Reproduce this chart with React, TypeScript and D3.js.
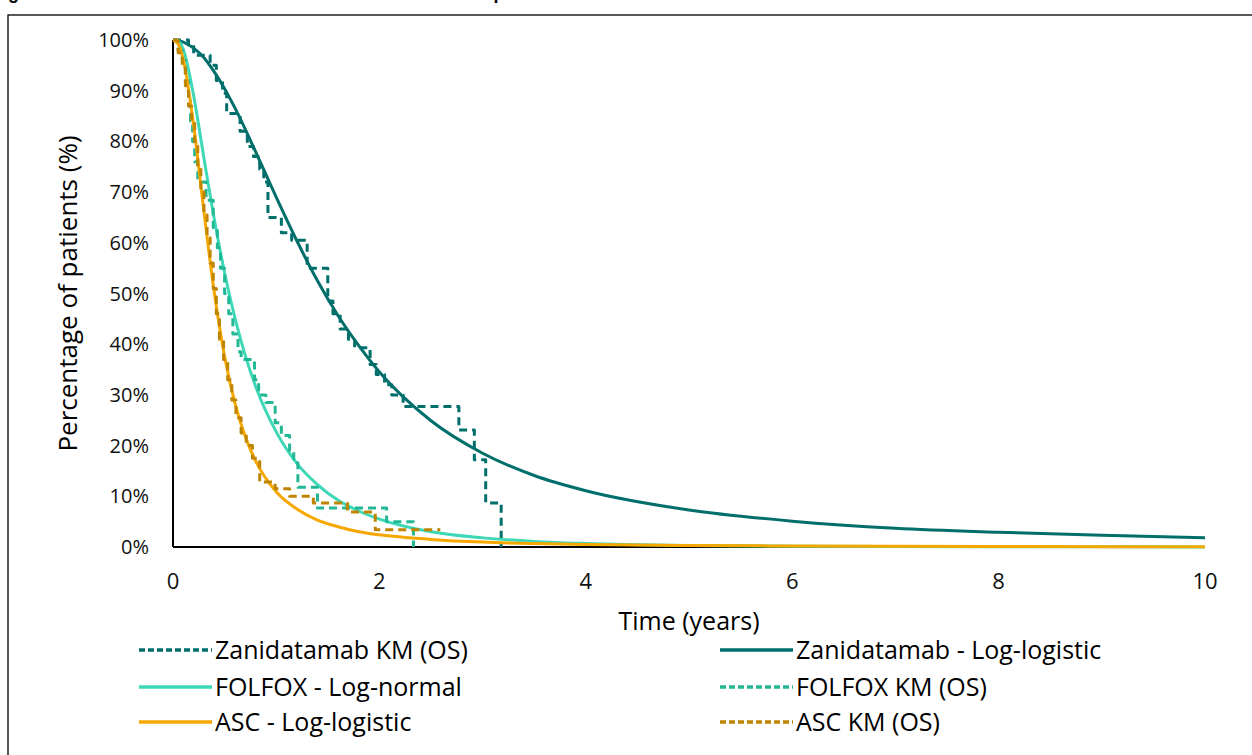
import React from "react";
import * as d3 from "d3";

// ---------- data ----------
const xTicks = [0, 2, 4, 6, 8, 10];
const yTicks = [0, 10, 20, 30, 40, 50, 60, 70, 80, 90, 100];

// Zanidatamab - Log-logistic (fitted curve), % surviving
const zaniFitTime = [0, 0.1, 0.2, 0.3, 0.4, 0.5, 0.6, 0.8, 1.0, 1.2, 1.4, 1.6, 1.8, 2.0, 2.5, 3, 3.5, 4, 5, 6, 7, 8, 9, 10];
const zaniFitPct = [100, 99.6, 98.4, 96.5, 93.7, 90.4, 86.6, 78.0, 69.0, 60.4, 52.5, 45.6, 39.7, 34.5, 24.9, 18.5, 14.1, 11.1, 7.3, 5.1, 3.7, 2.9, 2.3, 1.8];

// FOLFOX - Log-normal (fitted curve)
const folfoxFitTime = [0, 0.05, 0.1, 0.2, 0.3, 0.4, 0.5, 0.6, 0.7, 0.8, 1.0, 1.2, 1.4, 1.6, 1.8, 2.0, 2.5, 3, 3.5, 4, 5, 6, 8, 10];
const folfoxFitPct = [100, 99.8, 98.1, 89.0, 76.7, 64.7, 54.1, 45.2, 37.8, 31.7, 22.7, 16.5, 12.3, 9.2, 7.1, 5.5, 3.0, 1.8, 1.1, 0.7, 0.3, 0.16, 0.05, 0.02];

// ASC - Log-logistic (fitted curve)
const ascFitTime = [0, 0.05, 0.1, 0.2, 0.3, 0.4, 0.5, 0.6, 0.7, 0.8, 1.0, 1.2, 1.4, 1.6, 1.8, 2.0, 2.5, 3, 3.5, 4, 5, 6, 8, 10];
const ascFitPct = [100, 99.2, 96.1, 83.2, 66.1, 50.2, 37.6, 28.4, 21.8, 17.0, 10.9, 7.5, 5.3, 4.0, 3.0, 2.4, 1.5, 0.97, 0.68, 0.5, 0.3, 0.2, 0.1, 0.06];

// Zanidatamab KM (OS) step data
const zaniKmTime = [0, 0.15, 0.2, 0.36, 0.42, 0.48, 0.52, 0.65, 0.72, 0.78, 0.84, 0.88, 0.92, 1.05, 1.15, 1.30, 1.50, 1.55, 1.62, 1.70, 1.76, 1.91, 1.97, 2.05, 2.12, 2.23, 2.77, 2.92, 3.03, 3.18];
const zaniKmPct = [100, 99, 97, 95, 92, 89.5, 85.5, 82, 79, 77, 74.5, 72, 65, 62, 60.5, 55, 48.5, 46, 43, 41, 39.3, 36, 34, 32, 30, 27.7, 23.1, 17.2, 8.7, 0];

// FOLFOX KM (OS) step data
const folfoxKmTime = [0, 0.05, 0.09, 0.12, 0.15, 0.17, 0.19, 0.21, 0.24, 0.32, 0.39, 0.43, 0.46, 0.50, 0.54, 0.58, 0.63, 0.66, 0.79, 0.83, 0.90, 0.99, 1.05, 1.13, 1.17, 1.21, 1.40, 2.07, 2.33];
const folfoxKmPct = [100, 98, 96, 92, 88, 84, 80, 76, 72, 68.4, 63, 59, 55, 50, 46, 42, 38.5, 37, 33, 30, 28.5, 24.5, 22, 19, 16.6, 11.8, 7.7, 5, 0];

// ASC KM (OS) step data (last point = last follow-up, censored)
const ascKmTime = [0, 0.05, 0.09, 0.12, 0.15, 0.18, 0.21, 0.24, 0.27, 0.30, 0.33, 0.36, 0.39, 0.42, 0.45, 0.49, 0.53, 0.57, 0.61, 0.66, 0.71, 0.77, 0.84, 0.99, 1.13, 1.36, 1.69, 1.96, 2.59];
const ascKmPct = [100, 97.5, 95, 91, 87, 84, 80, 75, 70, 65.5, 61, 56, 51, 46, 41, 37, 33, 29, 25.5, 22.5, 20, 17.5, 12.8, 11.5, 10, 8.7, 6.9, 3.4, 3.4];

const C_ZANI = "#006f6b";
const C_FOLFOX_FIT = "#3ed8b6";
const C_FOLFOX_KM = "#22b795";
const C_ASC_FIT = "#f6a800";
const C_ASC_KM = "#bf8500";

type Series = { name: string; time: number[]; pct: number[]; color: string; dashed: boolean; step: boolean };

const series: Series[] = [
  { name: "Zanidatamab KM (OS)", time: zaniKmTime, pct: zaniKmPct, color: C_ZANI, dashed: true, step: true },
  { name: "Zanidatamab - Log-logistic", time: zaniFitTime, pct: zaniFitPct, color: C_ZANI, dashed: false, step: false },
  { name: "FOLFOX - Log-normal", time: folfoxFitTime, pct: folfoxFitPct, color: C_FOLFOX_FIT, dashed: false, step: false },
  { name: "FOLFOX KM (OS)", time: folfoxKmTime, pct: folfoxKmPct, color: C_FOLFOX_KM, dashed: true, step: true },
  { name: "ASC - Log-logistic", time: ascFitTime, pct: ascFitPct, color: C_ASC_FIT, dashed: false, step: false },
  { name: "ASC KM (OS)", time: ascKmTime, pct: ascKmPct, color: C_ASC_KM, dashed: true, step: true },
];

export default function App() {
  const W = 1252, H = 755;
  const x = d3.scaleLinear().domain([0, 10]).range([173, 1205]);
  const y = d3.scaleLinear().domain([0, 100]).range([547, 40]);

  const smooth = d3.line<[number, number]>().x((d) => x(d[0])).y((d) => y(d[1])).curve(d3.curveMonotoneX);
  const stepped = d3.line<[number, number]>().x((d) => x(d[0])).y((d) => y(d[1])).curve(d3.curveStepAfter);

  const font = "'Open Sans', 'Noto Sans', sans-serif";

  // legend layout: two columns, three rows
  const legendPos = [
    { lx: 139, ly: 650 },
    { lx: 720, ly: 650 },
    { lx: 139, ly: 687 },
    { lx: 720, ly: 687 },
    { lx: 139, ly: 722 },
    { lx: 720, ly: 722 },
  ];

  return (
    <svg width={W} height={H} style={{ position: "absolute", left: 0, top: 0, background: "#fff" }}>
      <rect x={0} y={0} width={W} height={H} fill="#fff" />
      <text x={-8} y={-1} fontFamily="'Liberation Sans', Arial, sans-serif" fontWeight="bold" fontSize={18} fill="#000">
        Figure 27: Zanidatamab versus ASC and FOLFOX: OS comparison
      </text>
      <rect x={8} y={15} width={1300} height={800} fill="none" stroke="#000" strokeWidth={1.3} />

      {/* axes */}
      <line x1={x(0)} x2={x(0)} y1={y(100)} y2={y(0)} stroke="#000" strokeWidth={2} />
      <line x1={x(0)} x2={x(10)} y1={y(0)} y2={y(0)} stroke="#000" strokeWidth={2} />

      {/* curves */}
      {series.map((s) => {
        const pts: [number, number][] = s.time.map((t, i) => [t, s.pct[i]]);
        return (
          <path
            key={s.name}
            d={(s.step ? stepped : smooth)(pts) || ""}
            fill="none"
            stroke={s.color}
            strokeWidth={3}
            strokeDasharray={s.dashed ? "8 5" : undefined}
            strokeLinejoin="round"
          />
        );
      })}

      {/* y ticks */}
      {yTicks.map((v) => (
        <text key={v} x={149} y={y(v)} dy="0.35em" textAnchor="end" fontFamily={font} fontSize={20} fill="#111">
          {v}%
        </text>
      ))}
      {/* x ticks */}
      {xTicks.map((v) => (
        <text key={v} x={x(v)} y={581} dy="0.35em" textAnchor="middle" fontFamily={font} fontSize={22} fill="#111">
          {v}
        </text>
      ))}

      {/* axis titles */}
      <text transform={`translate(68,${(y(0) + y(100)) / 2}) rotate(-90)`} textAnchor="middle" dy="0.35em" fontFamily={font} fontSize={26} fill="#000">
        Percentage of patients (%)
      </text>
      <text x={(x(0) + x(10)) / 2} y={621} dy="0.35em" textAnchor="middle" fontFamily={font} fontSize={25} fill="#000">
        Time (years)
      </text>

      {/* legend */}
      {series.map((s, i) => {
        const p = legendPos[i];
        return (
          <g key={s.name}>
            <line
              x1={p.lx}
              x2={p.lx + 73}
              y1={p.ly}
              y2={p.ly}
              stroke={s.color}
              strokeWidth={3.5}
              strokeDasharray={s.dashed ? "6 3" : undefined}
            />
            <text x={p.lx + 76} y={p.ly} dy="0.35em" fontFamily={font} fontSize={25} fill="#000">
              {s.name}
            </text>
          </g>
        );
      })}
    </svg>
  );
}
